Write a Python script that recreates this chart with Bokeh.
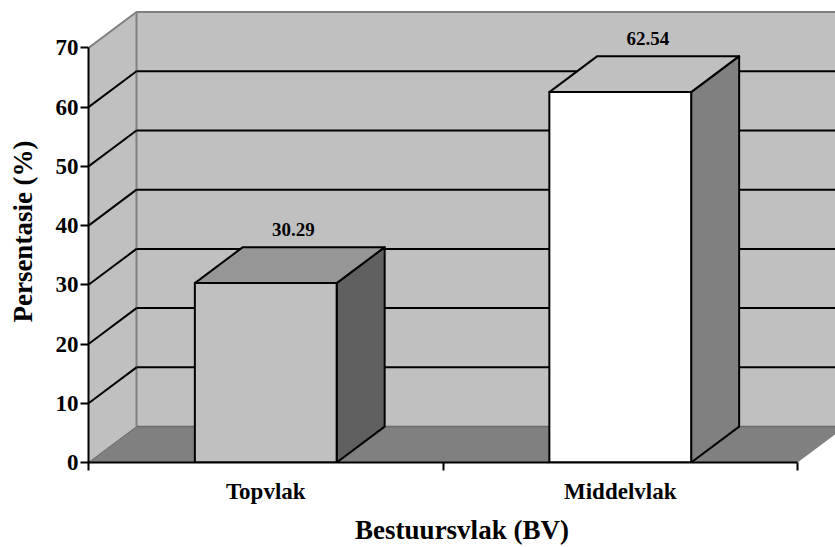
from bokeh.plotting import figure
from bokeh.models import FixedTicker, ColumnDataSource
from bokeh.core.properties import value
from bokeh.embed import file_html
from bokeh.resources import INLINE

# ---- data ----
categories = ["Topvlak", "Middelvlak"]
values = [30.29, 62.54]
y_ticks = [0, 10, 20, 30, 40, 50, 60, 70]
front_colors = ["#c0c0c0", "#ffffff"]
top_colors = ["#969696", "#c0c0c0"]
side_colors = ["#606060", "#808080"]
x_title = "Bestuursvlak (BV)"
y_title = "Persentasie (%)"

# ---- geometry (3D projection offsets in data units) ----
PX_X = 354.5            # pixels per category
PX_Y = 415.5 / 70.0     # pixels per percent
DX = 48.0 / PX_X        # depth offset in x
DY = 36.0 / PX_Y        # depth offset in y
N = len(categories)
YMAX = y_ticks[-1]
BAR_W = 0.4
FONT = "Liberation Serif"

p = figure(width=835, height=547, output_backend="svg", toolbar_location=None,
           x_range=(0, 747.0 / PX_X), y_range=(0, 463.0 / PX_Y),
           min_border_left=88, min_border_right=0, min_border_top=0,
           min_border_bottom=84)
p.outline_line_color = None
p.xgrid.visible = False
p.ygrid.visible = False
p.background_fill_color = "white"

XR = N + DX + 0.5  # beyond frame -> clipped

# left side wall
p.patch([0, DX, DX, 0], [0, DY, YMAX + DY, YMAX], fill_color="#c0c0c0", line_color=None)
# back wall
p.patch([DX, XR, XR, DX], [DY, DY, YMAX + DY, YMAX + DY], fill_color="#c0c0c0", line_color=None)
# floor
p.patch([0, N, N + DX, DX], [0, 0, DY, DY], fill_color="#808080", line_color=None)

# wall edges (gray)
p.line([0, DX, XR], [YMAX, YMAX + DY, YMAX + DY], line_color="#808080", line_width=2)
p.line([DX, DX], [DY, YMAX + DY], line_color="#808080", line_width=2)
p.line([DX, XR], [DY, DY], line_color="#6a6a6a", line_width=1.5)
p.line([0, DX], [0, DY], line_color="#6a6a6a", line_width=1)

# gridlines on back wall and side wall
gl = [t for t in y_ticks if 0 < t < YMAX]
p.multi_line([[DX, XR] for t in gl], [[t + DY, t + DY] for t in gl],
             line_color="black", line_width=2)
p.multi_line([[0, DX] for t in gl], [[t, t + DY] for t in gl],
             line_color="black", line_width=2)

# 3D bars
for i, v in enumerate(values):
    x0 = i + 0.5 - BAR_W / 2
    x1 = i + 0.5 + BAR_W / 2
    # side face
    p.patch([x1, x1 + DX, x1 + DX, x1], [0, DY, v + DY, v],
            fill_color=side_colors[i], line_color="black", line_width=2, line_join="round")
    # top face
    p.patch([x0, x1, x1 + DX, x0 + DX], [v, v, v + DY, v + DY],
            fill_color=top_colors[i], line_color="black", line_width=2, line_join="round")
    # front face
    p.patch([x0, x1, x1, x0], [0, 0, v, v],
            fill_color=front_colors[i], line_color="black", line_width=2, line_join="round")

# data labels
src = ColumnDataSource(dict(
    x=[i + 0.5 + DX / 2 + 0.01 for i in range(N)],
    y=[v + DY for v in values],
    t=["%.2f" % v for v in values],
))
p.text(x="x", y="y", text="t", source=src, text_font=value(FONT), text_font_style="bold",
       text_font_size="19px", text_align="center", text_baseline="middle",
       y_offset=-18, text_color="black")

# x axis
xa = p.xaxis[0]
xa.ticker = FixedTicker(ticks=[i + 0.5 for i in range(N)], minor_ticks=list(range(N + 1)))
xa.major_label_overrides = {i + 0.5: c for i, c in enumerate(categories)}
xa.bounds = (0, N)
xa.axis_line_width = 2
xa.axis_line_color = "black"
xa.major_tick_line_color = None
xa.major_tick_out = 0
xa.major_tick_in = 0
xa.minor_tick_line_color = "black"
xa.minor_tick_line_width = 2
xa.minor_tick_out = 8
xa.minor_tick_in = 0
xa.major_label_standoff = 8
xa.major_label_text_font = FONT
xa.major_label_text_font_style = "bold"
xa.major_label_text_font_size = "23px"
xa.major_label_text_color = "black"
xa.axis_label = x_title
xa.axis_label_text_font = FONT
xa.axis_label_text_font_style = "bold"
xa.axis_label_text_font_size = "27px"
xa.axis_label_text_color = "black"
xa.axis_label_standoff = 8

# y axis
ya = p.yaxis[0]
ya.ticker = FixedTicker(ticks=y_ticks, minor_ticks=[])
ya.bounds = (0, YMAX)
ya.axis_line_width = 2
ya.axis_line_color = "black"
ya.major_tick_line_color = "black"
ya.major_tick_line_width = 2
ya.major_tick_out = 8
ya.major_tick_in = 0
ya.minor_tick_line_color = None
ya.major_label_standoff = 2
ya.major_label_text_font = FONT
ya.major_label_text_font_style = "bold"
ya.major_label_text_font_size = "23px"
ya.major_label_text_color = "black"
ya.axis_label = y_title
ya.axis_label_text_font = FONT
ya.axis_label_text_font_style = "bold"
ya.axis_label_text_font_size = "27px"
ya.axis_label_text_color = "black"
ya.axis_label_standoff = 15

open("out.html", "w").write(file_html(p, INLINE))
